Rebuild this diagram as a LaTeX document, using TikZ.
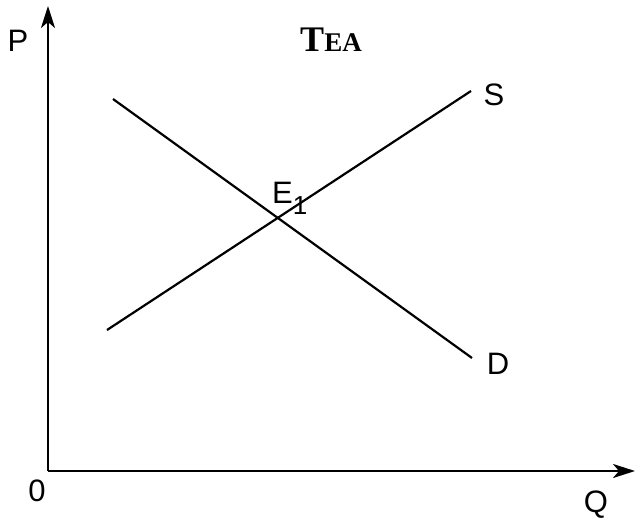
\documentclass[tikz,border=0pt]{standalone}
\usepackage{fontspec}
\setmainfont{Liberation Sans}
\newfontfamily\titlefont{Liberation Serif}
\usetikzlibrary{arrows.meta}
\begin{document}
\begin{tikzpicture}[x=1pt,y=-1pt,
  axis/.style={line width=2.6pt,-{Stealth[length=22pt,width=14pt,inset=6pt]}},
  curve/.style={line width=2.2pt},
  lbl/.style={inner sep=0pt,font=\fontsize{31}{31}\selectfont}]
\useasboundingbox (0,0) rectangle (636,519);
\coordinate (O) at (48,471);
\coordinate (Ytop) at (48,6);
\coordinate (Xend) at (635,471);
\draw[axis] (O) -- (Ytop);
\draw[axis] (O) -- (Xend);
\coordinate (D1) at (113,99);
\coordinate (D2) at (472,358);
\coordinate (S1) at (107,330);
\coordinate (S2) at (471,91);
\draw[curve] (D1) -- (D2);
\draw[curve] (S1) -- (S2);
\node[lbl] (P) at (18,41) {P};
\node[lbl] (zero) at (37,491) {0};
\node[lbl] (Q) at (596,505) {Q};
\node[lbl] (S) at (494,95) {S};
\node[lbl] (D) at (498,364) {D};
\node[lbl,anchor=base west] (E) at (272,203) {E\raisebox{-11pt}{\fontsize{26}{26}\selectfont 1}};
\node[inner sep=0pt,anchor=base] (title) at (331,52) {\titlefont\bfseries\fontsize{36}{36}\selectfont T\fontsize{27}{27}\selectfont EA};
\end{tikzpicture}
\end{document}
